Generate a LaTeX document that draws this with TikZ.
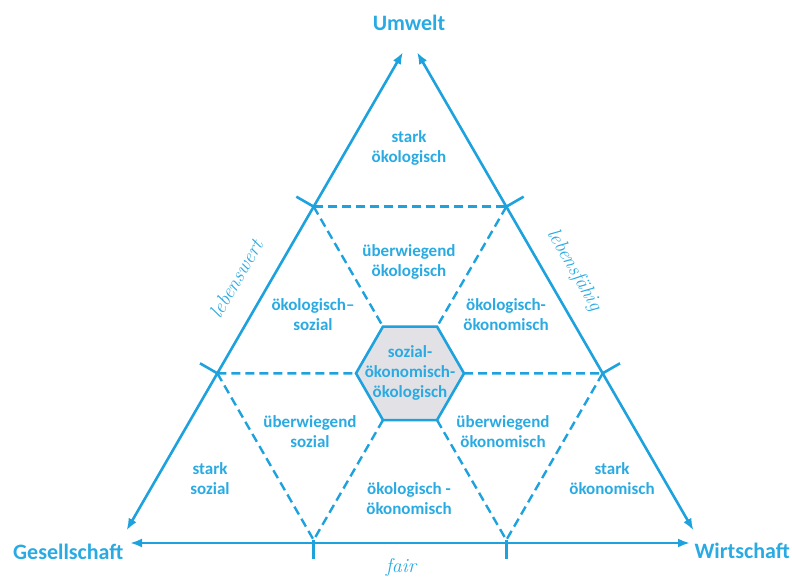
\documentclass[tikz,border=0pt]{standalone}
\usepackage{fontspec}
\setmainfont{Carlito}
\usetikzlibrary{arrows.meta,calc}
\definecolor{sky}{RGB}{30,162,222}
\definecolor{skytext}{RGB}{42,170,226}
\definecolor{hexfill}{RGB}{226,226,230}
\begin{document}
\begin{tikzpicture}[x=1pt,y=-1pt,
  side/.style={line width=2.6pt, draw=sky,
    {Latex[length=12pt,width=9pt]}-{Latex[length=12pt,width=9pt]}},
  gridline/.style={line width=2.4pt, draw=sky, dash pattern=on 9pt off 5pt},
  tickline/.style={line width=2.6pt, draw=sky},
  pole/.style={font=\bfseries\fontsize{22}{26}\selectfont, text=skytext, inner sep=0pt},
  region/.style={font=\bfseries\fontsize{17}{20}\selectfont, text=skytext,
    align=center, inner sep=0pt},
  hand/.style={font=\fontfamily{lmr}\itshape\fontsize{20}{24}\selectfont,
    text=skytext, inner sep=0pt}]

\useasboundingbox (0,0) rectangle (792,578);

% triangle corners and centre
\coordinate (A) at (410,40);
\coordinate (B) at (121,540);
\coordinate (C) at (699,540);
\coordinate (O) at (410,373.33);

% division points at thirds of each side
\coordinate (L1) at ($(A)!1/3!(B)$);
\coordinate (L2) at ($(A)!2/3!(B)$);
\coordinate (R1) at ($(A)!1/3!(C)$);
\coordinate (R2) at ($(A)!2/3!(C)$);
\coordinate (B1) at ($(B)!1/3!(C)$);
\coordinate (B2) at ($(B)!2/3!(C)$);

% hexagon corners on the grid lines through the centre
\coordinate (HTL) at ($(O)!54pt!(L1)$);
\coordinate (HTR) at ($(O)!54pt!(R1)$);
\coordinate (HL)  at ($(O)!54pt!(L2)$);
\coordinate (HR)  at ($(O)!54pt!(R2)$);
\coordinate (HBL) at ($(O)!54pt!(B1)$);
\coordinate (HBR) at ($(O)!54pt!(B2)$);

% arrow ends of the three sides
\coordinate (AL) at ($(A)!14pt!(B)$);
\coordinate (BA) at ($(B)!11pt!(A)$);
\coordinate (AR) at ($(A)!14pt!(C)$);
\coordinate (CA) at ($(C)!11pt!(A)$);
\coordinate (GL) at (130,543);
\coordinate (GR) at (690,543);

% dashed grid
\draw[gridline] (L1) -- (R1);
\draw[gridline] (L2) -- (HL);
\draw[gridline] (HR) -- (R2);
\draw[gridline] (L1) -- (HTL);
\draw[gridline] (HBR) -- (B2);
\draw[gridline] (R1) -- (HTR);
\draw[gridline] (HBL) -- (B1);
\draw[gridline] (L2) -- (B1);
\draw[gridline] (R2) -- (B2);

% centre hexagon
\draw[line width=2.6pt, draw=sky, fill=hexfill]
  (HTR) -- (HTL) -- (HL) -- (HBL) -- (HBR) -- (HR) -- cycle;

% sides
\draw[side] (BA) -- (AL);
\draw[side] (CA) -- (AR);
\draw[side] (GL) -- (GR);

% ticks at the thirds
\draw[tickline] (L1) -- ($(L1)!20pt!90:(A)$);
\draw[tickline] (L2) -- ($(L2)!20pt!90:(A)$);
\draw[tickline] (R1) -- ($(R1)!20pt!-90:(A)$);
\draw[tickline] (R2) -- ($(R2)!20pt!-90:(A)$);
\draw[tickline] (B1) -- ($(B1)!19pt!-90:(C)$);
\draw[tickline] (B2) -- ($(B2)!19pt!-90:(C)$);

% poles
\node[pole, anchor=base] (umwelt) at (409,31) {Umwelt};
\node[pole, anchor=base west] (gesellschaft) at (13,559) {Gesellschaft};
\node[pole, anchor=base east] (wirtschaft) at (790,558) {Wirtschaft};

% side qualities
\node[hand, rotate=60] (lebenswert) at (236,279) {lebenswert};
\node[hand, rotate=-60] (lebensfaehig) at (574,270) {lebensfähig};
\node[hand] (fair) at (401,567) {fair};

% fields
\node[region] (starkoek) at (409,148) {stark\\ökologisch};
\node[region] (uebeoek) at (409,262) {überwiegend\\ökologisch};
\node[region] (oeksoz) at (313,315) {ökologisch–\\sozial};
\node[region] (oekoeko) at (506,315) {ökologisch-\\ökonomisch};
\node[region] (mitte) at (O) {sozial-\\ökonomisch-\\ökologisch};
\node[region] (uebsoz) at (310,432) {überwiegend\\sozial};
\node[region] (uebeko) at (503,432) {überwiegend\\ökonomisch};
\node[region] (starksoz) at (210,479) {stark\\sozial};
\node[region] (starkeko) at (612,479) {stark\\ökonomisch};
\node[region] (oekeko) at (409,499) {ökologisch -\\ökonomisch};

\end{tikzpicture}
\end{document}
